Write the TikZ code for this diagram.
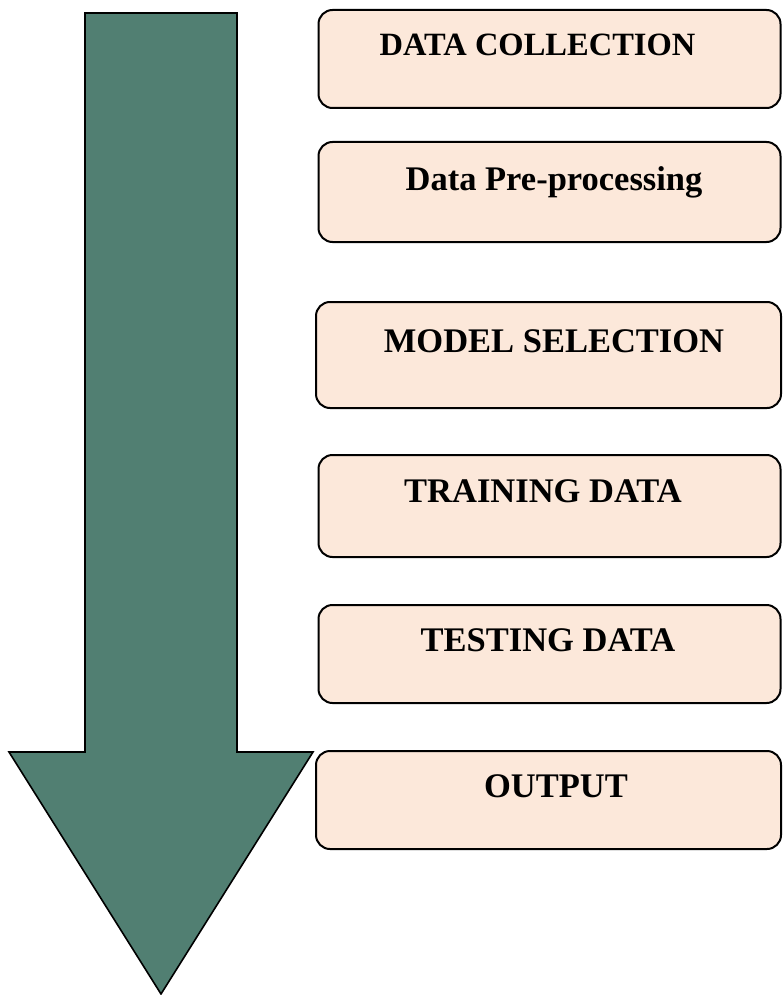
\documentclass[tikz,border=0pt]{standalone}
\usepackage{fontspec}
\setmainfont{Liberation Serif}
\definecolor{arrowgreen}{RGB}{81,127,114}
\definecolor{peach}{RGB}{252,232,218}
\tikzset{
  stepbox/.style={draw=black, line width=2pt, fill=peach, rounded corners=14pt, inner sep=0pt},
  steplabel/.style={anchor=base, inner sep=0pt, font=\bfseries\fontsize{34.5}{40}\selectfont},
}
\begin{document}
\begin{tikzpicture}[x=1pt,y=-1pt]
\useasboundingbox (0,0) rectangle (782,995);
% big arrow
\draw[line width=1.6pt, fill=arrowgreen, line join=miter]
  (85,13) -- (237,13) -- (237,752) -- (313,752) -- (161,994) -- (9,752) -- (85,752) -- cycle;
% boxes
\node[stepbox, minimum width=462pt, minimum height=98pt]  (b1) at (549.5,59) {};
\node[stepbox, minimum width=462pt, minimum height=100pt] (b2) at (549.5,192) {};
\node[stepbox, minimum width=465pt, minimum height=106pt] (b3) at (548.5,355) {};
\node[stepbox, minimum width=462pt, minimum height=102pt] (b4) at (549.5,506) {};
\node[stepbox, minimum width=462pt, minimum height=98pt]  (b5) at (549.5,654) {};
\node[stepbox, minimum width=465pt, minimum height=98pt]  (b6) at (548.5,800) {};
% labels
\node[steplabel, font=\bfseries\fontsize{32.5}{38}\selectfont] (t1) at (537.5,56) {DATA COLLECTION};
\node[steplabel] (t2) at (554,190) {Data Pre-processing};
\node[steplabel] (t3) at (554,352) {MODEL SELECTION};
\node[steplabel] (t4) at (543,502) {TRAINING DATA};
\node[steplabel] (t5) at (548,651) {TESTING DATA};
\node[steplabel] (t6) at (556,797) {OUTPUT};
\end{tikzpicture}
\end{document}
